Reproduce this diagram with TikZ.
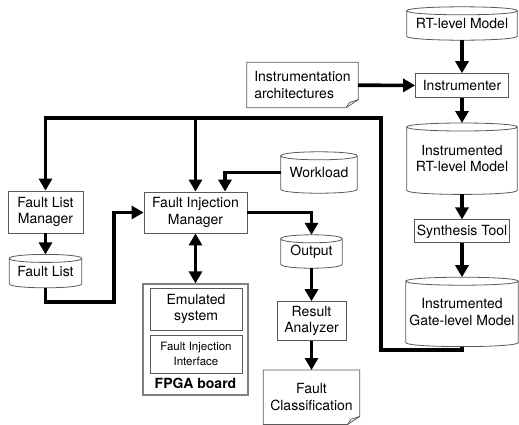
\documentclass[tikz,border=0pt]{standalone}
\usepackage{fontspec}
\setmainfont{TeX Gyre Heros}
\usetikzlibrary{positioning, arrows.meta, calc}

\begin{document}
\begin{tikzpicture}[
    x=1pt, y=1pt,
    every node/.style={font=\fontsize{14}{16.5}\selectfont, inner sep=0pt},
    box/.style={draw=black!65, line width=0.8pt, align=center},
    db/.style={align=center},
    doc/.style={align=center},
    shapeline/.style={draw=black!65, line width=0.8pt},
    flow/.style={line width=3.6pt, -{Triangle[length=12pt,width=13pt]}},
    both/.style={line width=3.6pt, {Triangle[length=12pt,width=13pt]}-{Triangle[length=12pt,width=13pt]}},
]
\useasboundingbox (0,0) rectangle (519,-424);

% instrumentation flow (right column)
\node[db, minimum width=110pt, minimum height=33pt] (rtm) at (462,-23.5) {RT-level Model};
\node[box, minimum width=93pt, minimum height=24pt, below=33pt of rtm] (instr) {Instrumenter};
\node[db, minimum width=110pt, minimum height=71pt, below=25pt of instr] (irtm) {Instrumented\\RT-level Model};
\node[box, minimum width=95pt, minimum height=23pt, below=25pt of irtm] (synth) {Synthesis Tool};
\node[db, minimum width=112pt, minimum height=69pt, below=34pt of synth] (gate) {Instrumented\\Gate-level Model};
\node[doc, align=left, minimum width=111pt, minimum height=45pt] (arch) at (302.5,-85) {Instrumentation\\architectures};

% fault injection side
\node[box, minimum width=75pt, minimum height=42pt] (flm) at (45.5,-212) {Fault List\\Manager};
\node[db, minimum width=72pt, minimum height=33pt, below=21pt of flm] (flist) {Fault List};
\node[box, minimum width=103pt, minimum height=41pt] (fim) at (195.5,-212.5) {Fault Injection\\Manager};
\node[db, minimum width=76pt, minimum height=41pt] (work) at (319,-172.5) {Workload};
\node[draw=black!50, line width=1.3pt, minimum width=105pt, minimum height=111pt, below=50pt of fim] (fpga) {};
\node[box, minimum width=92pt, minimum height=42pt] (emu) at (196,-309) {Emulated\\system};
\node[box, minimum width=92pt, minimum height=38pt, font=\fontsize{11.5}{15}\selectfont] (fii) at (196,-354) {Fault Injection\\Interface};
\node[font=\fontsize{14}{16}\selectfont\bfseries] (fpgalbl) at (195.5,-383) {FPGA board};
\node[db, minimum width=61pt, minimum height=33pt] (out) at (311.5,-251.5) {Output};
\node[box, minimum width=69pt, minimum height=39pt, below=33pt of out] (ra) {Result\\Analyzer};
\node[doc, minimum width=96pt, minimum height=54pt, below=29pt of ra] (fc) {Fault\\Classification};

% cylinders
\foreach \c in {rtm, irtm, gate, flist, work, out}{
  \draw[shapeline] ([yshift=-4pt]\c.north west) .. controls +(0,5.33) and +(0,5.33) .. ([yshift=-4pt]\c.north east)
    .. controls +(0,-5.33) and +(0,-5.33) .. ([yshift=-4pt]\c.north west) -- ([yshift=4pt]\c.south west)
    .. controls +(0,-5.33) and +(0,-5.33) .. ([yshift=4pt]\c.south east) -- ([yshift=-4pt]\c.north east);
}
% documents with folded corner
\foreach \c in {arch, fc}{
  \draw[shapeline] (\c.north west) -- (\c.north east) -- ([yshift=8pt]\c.south east) -- ([xshift=-12pt]\c.south east) -- (\c.south west) -- cycle;
  \draw[shapeline] ([yshift=8pt]\c.south east) -- ([xshift=-9pt,yshift=5pt]\c.south east) -- ([xshift=-12pt]\c.south east);
}

\coordinate (busB) at (381,-350);
\coordinate (busR) at (381,-118);
\coordinate (busL) at (45.5,-118);
\coordinate (flturn) at (114,-302);

\draw[flow] (rtm) -- (instr);
\draw[flow] (arch) -- (instr);
\draw[flow] (instr) -- (irtm);
\draw[flow] (irtm) -- (synth);
\draw[flow] (synth) -- (gate);
\draw[flow] (gate.south) |- (busB) -- (busR) -- (busL) -- (flm.north);
\draw[flow] (busL -| fim.north) -- (fim.north);
\draw[flow] (work.west) -| ([xshift=29.5pt]fim.north);
\draw[flow] (flm) -- (flist);
\draw[flow] (flist.south) |- (flturn) |- (fim.west);
\draw[both] (fim) -- (fpga);
\draw[flow] (fim.east) -| (out.north);
\draw[flow] (out) -- (ra);
\draw[flow] (ra) -- (fc);
\end{tikzpicture}
\end{document}
